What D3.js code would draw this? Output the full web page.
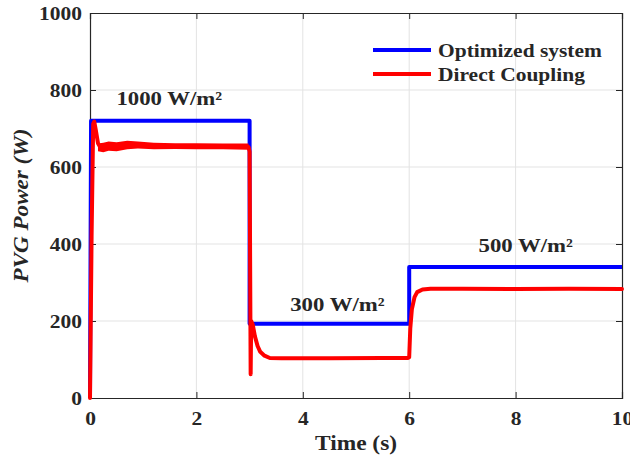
<!DOCTYPE html>
<html>
<head>
<meta charset="utf-8">
<script src="https://cdn.jsdelivr.net/npm/d3@7"></script>
<style>
  body { margin: 0; background: #fff; }
  svg { display: block; }
  text { font-family: "Liberation Serif", "Times New Roman", serif; font-weight: bold; fill: #262626; }
</style>
</head>
<body>
<div id="chart"></div>
<script>
// time ticks and power ticks
const xTicks = [0, 2, 4, 6, 8, 10];
const yTicks = [0, 200, 400, 600, 800, 1000];

// Optimized system (time s, power W)
const optTime  = [0, 0.02, 3.0, 3.0, 6.0, 6.0, 10];
const optPower = [0, 720, 720, 193, 193, 340, 340];

// Direct coupling (time s, power W)
const dirTime  = [0, 0.03, 0.06, 0.08, 0.11, 0.15, 0.2, 0.3, 0.5, 0.7, 1.0, 1.5, 2.0, 2.5, 2.98, 3.0, 3.02, 3.03, 3.06, 3.1, 3.15, 3.2, 3.28, 3.38, 3.6, 4.5, 5.5, 5.98, 6.0, 6.02, 6.05, 6.1, 6.15, 6.25, 6.4, 7, 8, 9, 10];
const dirPower = [0, 420, 712, 718, 695, 662, 650, 652, 654, 658, 655, 653, 654, 652, 652, 640, 62, 200, 190, 160, 135, 120, 110, 104, 103, 103, 104, 104, 106, 180, 230, 262, 275, 282, 284, 284, 283, 284, 283];

// noise envelope of the direct coupling trace at 1000 W/m²
const bandTime  = [0.15, 0.25, 0.35, 0.5, 0.7, 0.9, 1.2, 1.6, 2.0, 2.5, 2.98];
const bandLow   = [641, 638, 642, 641, 646, 648, 646, 647, 646, 646, 645];
const bandHigh  = [661, 663, 666, 664, 668, 666, 663, 662, 662, 661, 661];

const legendLabels = ['Optimized system', 'Direct Coupling'];
const seriesColors = ['#0000ff', '#ff0000'];

const annotations = [
  { text: '1000 W/m²', t: 1.49, p: 761 },
  { text: '300 W/m²',  t: 4.65, p: 227 },
  { text: '500 W/m²',  t: 8.19, p: 380 }
];

const width = 630, height = 460;
const margin = { top: 13, right: 8, bottom: 62, left: 90 };

const svg = d3.select('#chart').append('svg')
  .attr('width', width)
  .attr('height', height);

const x = d3.scaleLinear().domain([0, 10]).range([margin.left, width - margin.right]);
const y = d3.scaleLinear().domain([0, 1000]).range([height - margin.bottom, margin.top]);

// the original lettering is wider than Times; stretch text horizontally around its anchor
function placeText(sel, px, py, k) {
  sel.attr('x', 0).attr('y', 0)
    .attr('transform', `translate(${px},${py}) scale(${k},1)`);
}

// grid
const grid = svg.append('g');
grid.selectAll('.gx').data(xTicks.slice(1, -1)).join('line')
  .attr('x1', d => x(d)).attr('x2', d => x(d))
  .attr('y1', y(0)).attr('y2', y(1000))
  .attr('stroke', '#e3e3e3').attr('stroke-width', 1);
grid.selectAll('.gy').data(yTicks.slice(1, -1)).join('line')
  .attr('x1', x(0)).attr('x2', x(10))
  .attr('y1', d => y(d)).attr('y2', d => y(d))
  .attr('stroke', '#e3e3e3').attr('stroke-width', 1);

// axes with inward ticks
const tickLen = 6;
const xAxis = svg.append('g')
  .attr('transform', `translate(0,${y(0)})`)
  .call(d3.axisBottom(x).tickValues(xTicks).tickSize(-tickLen).tickPadding(12).tickFormat(d3.format('d')));
const yAxis = svg.append('g')
  .attr('transform', `translate(${x(0)},0)`)
  .call(d3.axisLeft(y).tickValues(yTicks).tickSize(-tickLen).tickPadding(12).tickFormat(d3.format('d')));
svg.append('g')
  .attr('transform', `translate(0,${y(1000)})`)
  .call(d3.axisTop(x).tickValues(xTicks).tickSize(-tickLen).tickFormat(''));
svg.append('g')
  .attr('transform', `translate(${x(10)},0)`)
  .call(d3.axisRight(y).tickValues(yTicks).tickSize(-tickLen).tickFormat(''));

svg.selectAll('.domain').attr('stroke', '#262626').attr('stroke-width', 1.2);
svg.selectAll('.tick line').attr('stroke', '#262626');
const tickK = 1.13;
[xAxis, yAxis].forEach(a => a.selectAll('text')
  .style('font-size', '19px')
  .style('font-family', '"Liberation Serif", "Times New Roman", serif')
  .style('font-weight', 'bold')
  .attr('fill', '#262626'));
xAxis.selectAll('text').attr('transform', `scale(${tickK},1)`).attr('y', 14);
yAxis.selectAll('text').attr('transform', `scale(${tickK},1)`).attr('x', -8 / tickK);

// series
const line = d3.line().x(d => x(d[0])).y(d => y(d[1]));

svg.append('path')
  .datum(d3.zip(optTime, optPower))
  .attr('d', line)
  .attr('fill', 'none')
  .attr('stroke', seriesColors[0])
  .attr('stroke-width', 4)
  .attr('stroke-linejoin', 'round');

const band = d3.area()
  .x(d => x(d[0]))
  .y0(d => y(d[1]))
  .y1(d => y(d[2]));
svg.append('path')
  .datum(d3.zip(bandTime, bandLow, bandHigh))
  .attr('d', band)
  .attr('fill', seriesColors[1]);

svg.append('path')
  .datum(d3.zip(dirTime, dirPower))
  .attr('d', line)
  .attr('fill', 'none')
  .attr('stroke', seriesColors[1])
  .attr('stroke-width', 4)
  .attr('stroke-linejoin', 'round')
  .attr('stroke-linecap', 'round');

// annotations
svg.selectAll('.ann').data(annotations).join('text')
  .attr('text-anchor', 'middle')
  .style('font-size', '19px')
  .attr('fill', '#000')
  .text(d => d.text)
  .each(function(d) { placeText(d3.select(this), x(d.t), y(d.p), 1.2); });

// legend
const legend = svg.append('g').attr('transform', 'translate(373,50)');
const li = legend.selectAll('g').data(legendLabels).join('g')
  .attr('transform', (d, i) => `translate(0,${i * 24})`);
li.append('line')
  .attr('x1', 0).attr('x2', 58)
  .attr('stroke', (d, i) => seriesColors[i])
  .attr('stroke-width', 4);
li.append('text')
  .attr('dy', '0.35em')
  .style('font-size', '19px')
  .attr('fill', '#000')
  .text(d => d)
  .each(function() { placeText(d3.select(this), 65, 0, 1.13); });

// axis labels
svg.append('text')
  .attr('text-anchor', 'middle')
  .style('font-size', '20px')
  .text('Time (s)')
  .call(placeText, x(5), 450, 1.17);

svg.append('text')
  .attr('transform', `translate(28,${y(500)}) rotate(-90) scale(1.1,1)`)
  .attr('text-anchor', 'middle')
  .style('font-size', '21px')
  .style('font-style', 'italic')
  .text('PVG Power (W)');
</script>
</body>
</html>
